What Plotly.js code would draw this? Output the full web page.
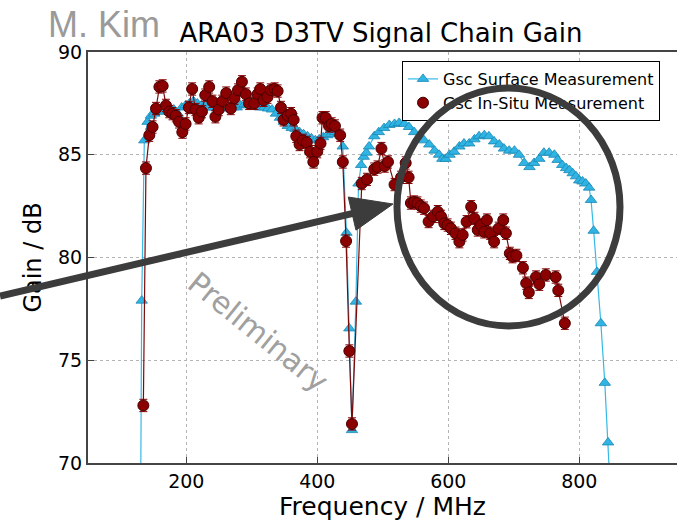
<!DOCTYPE html>
<html>
<head>
<meta charset="utf-8">
<script src="https://cdn.plot.ly/plotly-3.0.1.min.js"></script>
<style>html,body{margin:0;padding:0;background:#fff;overflow:hidden}
#wrap{position:relative;width:677px;height:525px}
#chart,#overlay{position:absolute;left:0;top:0;width:677px;height:525px}
#overlay{pointer-events:none}</style>
</head>
<body>
<div id="wrap"><div id="chart"></div><div id="overlay"></div></div>
<script>
// ---- Data ----
const surfaceFreq = [129,132,136,141,146,151,157,163,169,175,181,187,193,199,205,211,217,223,229,235,241,247,253,259,265,271,277,283,289,295,301,307,313,319,325,331,337,343,349,355,361,367,373,379,385,391,397,403,409,415,421,427,433,439,444.6,449,453,459,463,467,471,475,479,487,494,502,510,518,525,533,540,548,556,563,571,579,586,591,596,602,609,617,624,632,640,647,655,662,670,678,685,693,701,708,716,724,731,739,746,754,762,767,774,780,785,790,795,800,805,810,815,818,822,827,833,839,844,850];
const surfaceGain = [60,77.9,85.7,86.6,86.9,87.0,87.1,87.1,87.2,87.2,87.2,87.0,87.3,87.4,87.5,87.6,87.5,87.4,87.4,87.3,87.3,87.25,87.25,87.3,87.3,87.3,87.3,87.4,87.45,87.5,87.5,87.4,87.3,87.3,87.25,87.2,87.0,86.8,86.6,86.4,86.3,86.25,86.1,86.0,85.9,85.8,85.7,85.75,85.85,85.95,86.0,86.1,86.05,85.4,81.2,76.55,71.6,77.85,83.6,84.5,84.9,85.1,85.4,85.9,86.1,86.3,86.45,86.5,86.55,86.5,86.35,86.1,85.9,85.7,85.5,85.2,85.0,84.8,84.8,85.0,85.15,85.4,85.55,85.55,85.75,85.9,85.95,85.9,85.65,85.5,85.3,85.2,85.2,85.0,84.6,84.4,84.6,84.8,85.1,85.1,85.0,84.75,84.5,84.35,84.25,84.1,83.95,83.75,83.7,83.6,83.4,82.8,81.3,79.3,76.8,73.9,71.0,67.0];

const insituFreq = [134.5,138.5,143.6,148.6,153.8,159,164,169,174,179,184,189,194,199,204,209,214,219,224,229,235,240,244.5,249.6,255,261,268,273.6,279,285,291,296,304,309,313,318,324,329,335,339.5,344.6,348.6,355,360,364,368,373,378,384,389,394,400,405,408,413,418,422,427,435,439,444,449,453,468,476,487,492,498,503,508,518,528,535,539.5,543,548,553,558,563,570,577,584,589,594,599,604,611,617,622,628,635,640,645,650,655,659,664,670,677,684,688,694,698,704,714,719,723,734,739,749,764,768,778];
const insituGain = [72.8,84.35,85.95,86.35,87.25,88.3,88.35,87.4,87.1,87.0,86.9,86.6,86.1,86.5,87.3,88.2,87.2,86.8,87.1,87.9,88.3,87.6,86.85,87.2,87.6,88.0,87.25,87.75,88.15,88.55,87.95,87.5,87.5,87.95,88.2,87.65,87.8,88.15,88.2,88.1,87.3,86.7,86.9,87.0,86.7,85.9,85.5,85.7,85.6,85.15,84.65,85.15,85.55,86.8,86.8,86.4,86.5,86.4,85.95,84.65,80.8,75.45,71.9,83.6,83.8,84.3,84.4,85.3,84.45,84.65,83.55,83.9,84.6,83.9,82.65,82.7,82.65,82.5,82.4,81.75,82.0,82.23,82.0,81.66,81.58,81.42,81.18,80.77,81.1,81.74,82.47,81.9,81.34,81.58,81.25,81.82,81.18,80.77,81.42,81.82,81.18,80.2,80.04,80.1,79.5,78.75,78.3,79.05,78.7,79.15,79.05,78.4,76.8];
const insituErr = 0.3;

const xTicks = [200,400,600,800];
const yTicks = [70,75,80,85,90];
const seriesNames = ['Gsc Surface Measurement','Gsc In-Situ Measurement'];

// ---- geometry helpers (pixel -> paper) ----
const M = {l:88, r:0, t:52, b:62}, W = 677, H = 525;
const PW = W - M.l - M.r, PH = H - M.t - M.b;
const px = x => (x - M.l) / PW;
const py = y => (H - M.b - y) / PH;

const dark = '#3c3c3c';

const traces = [
  {x: surfaceFreq, y: surfaceGain, name: seriesNames[0], type:'scatter', mode:'lines+markers',
   line:{color:'#35b9e6', width:1.2},
   marker:{symbol:'triangle-up', size:10, color:'#2fb4e4', line:{color:'#1b86b3', width:0.8}}},
  {x: insituFreq, y: insituGain, type:'scatter', mode:'lines', showlegend:false,
   line:{color:'#7a0a0a', width:1.2}, hoverinfo:'skip'},
  {x: insituFreq, y: insituGain, name: seriesNames[1], type:'scatter', mode:'markers',
   marker:{symbol:'circle', size:11, color:'#8b0000', line:{color:'#4a0000', width:1}},
   error_y:{type:'constant', value:insituErr, color:'#8b0000', thickness:1, width:4}}
];

const layout = {
  width: W, height: H,
  margin: M,
  paper_bgcolor:'#fff', plot_bgcolor:'#fff',
  font:{family:'DejaVu Sans', color:'#000'},
  title:{text:'ARA03 D3TV Signal Chain Gain', font:{size:26, color:'#000', family:'DejaVu Sans'},
         xref:'container', yref:'container', x:381/W, xanchor:'center', y:1-33/H, yanchor:'middle'},
  xaxis:{range:[50, 50 + PW/0.655], tickvals:xTicks, ticks:'inside', ticklen:6, tickcolor:'#444',
         showline:true, linecolor:'#444', linewidth:2, mirror:true,
         showgrid:true, gridcolor:'#b5b5b5', griddash:'dot', gridwidth:1, zeroline:false,
         tickfont:{size:19}, title:{text:'Frequency / MHz', font:{size:25}, standoff:6}},
  yaxis:{range:[70,90], tickvals:yTicks, ticks:'inside', ticklen:6, tickcolor:'#444',
         showline:true, linecolor:'#444', linewidth:2, mirror:false,
         showgrid:true, gridcolor:'#b5b5b5', griddash:'dot', gridwidth:1, zeroline:false,
         tickfont:{size:19}, title:{text:'Gain / dB', font:{size:24}, standoff:10}},
  legend:{x:px(402), y:py(61), xanchor:'left', yanchor:'top', bordercolor:'#000', borderwidth:1,
          bgcolor:'#fff', font:{size:16}, tracegroupgap:0},
  annotations:[
    {text:'M. Kim', xref:'paper', yref:'paper', x:px(46), y:py(24), xanchor:'left', yanchor:'middle',
     showarrow:false, font:{family:'Liberation Sans', size:36, color:'#9a9a9a'}},
    {text:'Preliminary', xref:'paper', yref:'paper', x:px(258), y:py(331), xanchor:'center', yanchor:'middle',
     textangle:39, showarrow:false, font:{family:'DejaVu Sans', size:30, color:'#a0a0a0'}}
  ]
};

Plotly.newPlot('chart', traces, layout, {displayModeBar:false, staticPlot:true});

// ---- overlay: circle and arrow drawn above everything (incl. legend) ----
const tip = [393, 204], start = [0, 296];
const dx = tip[0]-start[0], dy = tip[1]-start[1], L = Math.hypot(dx,dy);
const ux = dx/L, uy = dy/L, headL = 42, headW = 17;
const bx = tip[0]-headL*ux, by = tip[1]-headL*uy;
const p1 = [bx - headW*uy, by + headW*ux], p2 = [bx + headW*uy, by - headW*ux];
const headPath = `M ${px(tip[0])} ${py(tip[1])} L ${px(p1[0])} ${py(p1[1])} L ${px(p2[0])} ${py(p2[1])} Z`;

const overlayLayout = {
  width: W, height: H, margin: M,
  paper_bgcolor:'rgba(0,0,0,0)', plot_bgcolor:'rgba(0,0,0,0)',
  xaxis:{visible:false, range:[0,1]}, yaxis:{visible:false, range:[0,1]},
  showlegend:false,
  shapes:[
    {type:'circle', xref:'paper', yref:'paper', x0:px(397), x1:px(620), y0:py(326), y1:py(88),
     line:{color:dark, width:7}},
    {type:'line', xref:'paper', yref:'paper', x0:px(start[0]), y0:py(start[1]), x1:px(bx+2*ux), y1:py(by+2*uy),
     line:{color:dark, width:7}},
    {type:'path', xref:'paper', yref:'paper', path:headPath, fillcolor:dark, line:{color:dark, width:1}}
  ]
};
Plotly.newPlot('overlay', [], overlayLayout, {displayModeBar:false, staticPlot:true});
</script>
</body>
</html>
